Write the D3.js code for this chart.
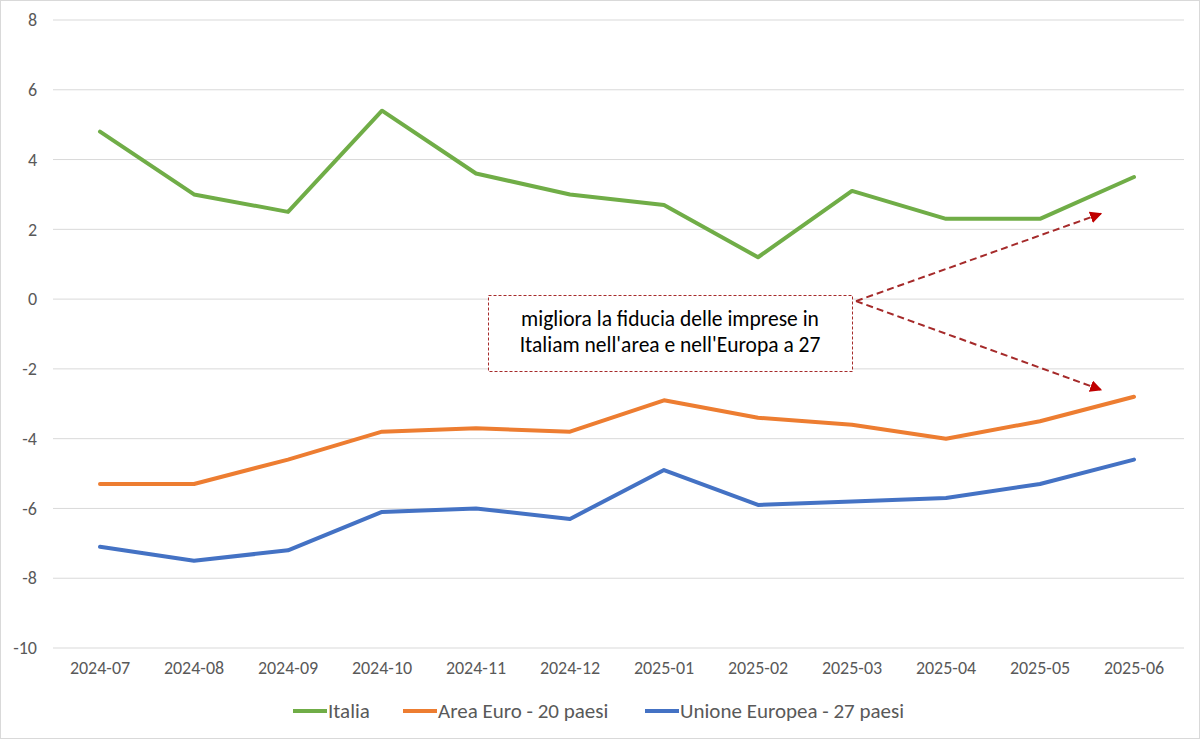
<!DOCTYPE html>
<html><head><meta charset="utf-8">
<script src="https://cdn.jsdelivr.net/npm/d3@7"></script>
<style>body{margin:0;background:#fff}svg{display:block}</style>
</head><body>
<svg id="c" width="1200" height="739"></svg>
<script>
const categories = ["2024-07","2024-08","2024-09","2024-10","2024-11","2024-12","2025-01","2025-02","2025-03","2025-04","2025-05","2025-06"];
const italia = [4.8, 3.0, 2.5, 5.4, 3.6, 3.0, 2.7, 1.2, 3.1, 2.3, 2.3, 3.5];
const areaEuro = [-5.3, -5.3, -4.6, -3.8, -3.7, -3.8, -2.9, -3.4, -3.6, -4.0, -3.5, -2.8];
const ue27 = [-7.1, -7.5, -7.2, -6.1, -6.0, -6.3, -4.9, -5.9, -5.8, -5.7, -5.3, -4.6];
const yTicks = [8, 6, 4, 2, 0, -2, -4, -6, -8, -10];
const seriesNames = ["Italia", "Area Euro - 20 paesi", "Unione Europea - 27 paesi"];
const annotationText = ["migliora la fiducia delle imprese in", "Italiam nell'area e nell'Europa a 27"];

const svg = d3.select("#c");
const font = "Carlito, Calibri, 'Open Sans', sans-serif";
svg.append("rect").attr("x",0.5).attr("y",0.5).attr("width",1199).attr("height",738)
  .attr("fill","#fff").attr("stroke","#d9d9d9");

const x = d3.scaleBand().domain(categories).range([53, 1181]);
const y = d3.scaleLinear().domain([-10, 8]).range([648, 20]);
const cx = d => x(d) + x.bandwidth()/2;

// gridlines
svg.append("g").selectAll("line").data(yTicks).join("line")
  .attr("x1", 53).attr("x2", 1184).attr("y1", d=>y(d)).attr("y2", d=>y(d))
  .attr("stroke", "#d9d9d9").attr("stroke-width", 1);

// y axis
const yAxis = svg.append("g").attr("transform","translate(37,0)")
  .call(d3.axisLeft(y).tickValues(yTicks).tickSize(0).tickPadding(0).tickFormat(d => String(d)));
yAxis.select(".domain").remove();
yAxis.selectAll("text").attr("font-family", font).attr("font-size", 18).attr("fill", "#595959");

// x axis
const xAxis = svg.append("g").attr("transform","translate(0,657)")
  .call(d3.axisBottom(x).tickSize(0).tickPadding(4));
xAxis.select(".domain").remove();
xAxis.selectAll("text").attr("font-family", font).attr("font-size", 18).attr("fill", "#595959");

const colors = ["#70ad47", "#ed7d31", "#4472c4"];
const data = [italia, areaEuro, ue27];
const line = d3.line().x((d,i)=>cx(categories[i])).y(d=>y(d));
svg.append("g").selectAll("path").data(data).join("path")
  .attr("d", d=>line(d)).attr("fill","none")
  .attr("stroke",(d,i)=>colors[i]).attr("stroke-width",4)
  .attr("stroke-linejoin","round").attr("stroke-linecap","round");

// annotation
const ann = svg.append("g");
const defs = svg.append("defs");
defs.append("marker").attr("id","ah").attr("viewBox","0 0 10 10").attr("refX",9).attr("refY",5)
  .attr("markerWidth",6).attr("markerHeight",6).attr("orient","auto")
  .append("path").attr("d","M0,0 L10,5 L0,10 z").attr("fill","#c00000");
ann.append("rect").attr("x",488.5).attr("y",295.5).attr("width",364).attr("height",76)
  .attr("fill","#fff").attr("stroke","#a52a2a").attr("stroke-width",1).attr("stroke-dasharray","3,2");
ann.selectAll("text").data(annotationText).join("text")
  .attr("x", 670).attr("y",(d,i)=>326+i*26).attr("text-anchor","middle")
  .attr("font-family", font).attr("font-size", 21.5).attr("fill","#000").text(d=>d);
const arrowTargets = [[2.45], [-2.6]];
const xEnd = (cx(categories[10]) + cx(categories[11]))/2 + 14;
ann.selectAll("line").data(arrowTargets).join("line")
  .attr("x1", 856).attr("y1", y(0)+2).attr("x2", xEnd).attr("y2", d=>y(d[0]))
  .attr("stroke","#a52a2a").attr("stroke-width",2).attr("stroke-dasharray","7,4")
  .attr("marker-end","url(#ah)");

// legend
const legX = [293, 403, 645];
const lg = svg.append("g");
seriesNames.forEach((n,i)=>{
  lg.append("line").attr("x1",legX[i]).attr("x2",legX[i]+34).attr("y1",711).attr("y2",711)
    .attr("stroke",colors[i]).attr("stroke-width",4);
  lg.append("text").attr("x",legX[i]+35).attr("y",718).attr("font-family",font)
    .attr("font-size",21).attr("fill","#595959").text(n);
});
</script>
</body></html>
